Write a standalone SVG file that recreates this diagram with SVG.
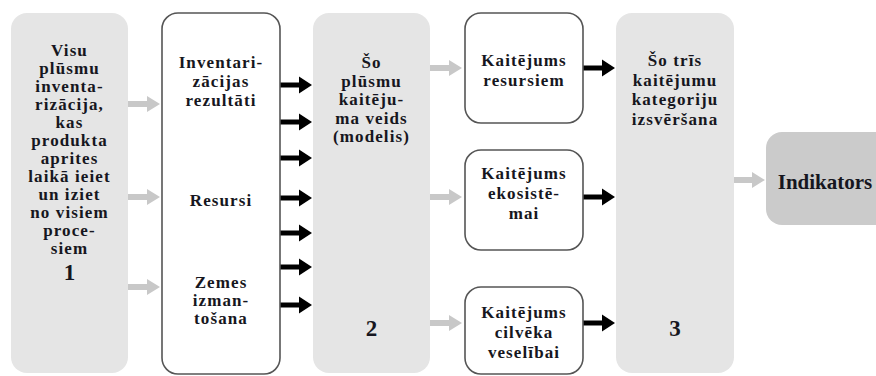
<svg xmlns="http://www.w3.org/2000/svg" width="876" height="376" viewBox="0 0 876 376">
<defs>
<style>
.g{fill:#e5e5e5;}
.w{fill:#fff;stroke:#555;stroke-width:1.6;}
.d{fill:#cbcbcb;}
text{font-family:"Liberation Serif","DejaVu Serif",serif;font-weight:700;font-size:17px;letter-spacing:1.1px;fill:#161620;text-anchor:middle;}
.n{font-size:23px;letter-spacing:0;}
.big{font-size:21px;letter-spacing:0;}
.ab{stroke:#000;stroke-width:5;fill:none;marker-end:url(#hb);}
.ag{stroke:#c8c8c8;stroke-width:6;fill:none;marker-end:url(#hg);}
</style>
<marker id="hb" markerUnits="userSpaceOnUse" markerWidth="14" markerHeight="18" viewBox="0 -9 14 18" refX="1" refY="0" orient="auto"><path d="M0,-8.5 L13,0 L0,8.5 Z" fill="#000"/></marker>
<marker id="hg" markerUnits="userSpaceOnUse" markerWidth="14" markerHeight="18" viewBox="0 -9 14 18" refX="1" refY="0" orient="auto"><path d="M0,-8 L13,0 L0,8 Z" fill="#c8c8c8"/></marker>
</defs>
<g id="connectors">
<path class="ag" d="M128,104 H148"/>
<path class="ag" d="M128,197 H148"/>
<path class="ag" d="M128,287 H148"/>
<path class="ab" d="M280,85 H300"/>
<path class="ab" d="M280,122 H300"/>
<path class="ab" d="M280,158 H300"/>
<path class="ab" d="M280,198 H300"/>
<path class="ab" d="M280,233 H300"/>
<path class="ab" d="M280,267 H300"/>
<path class="ab" d="M280,305 H300"/>
<path class="ag" d="M430,68 H450"/>
<path class="ag" d="M430,197 H450"/>
<path class="ag" d="M430,323 H450"/>
<path class="ab" d="M583,68 H603"/>
<path class="ab" d="M583,197 H603"/>
<path class="ab" d="M583,323 H603"/>
<path class="ag" d="M734,180 H753"/>
</g>
<g id="node1">
<rect class="g" x="11" y="13" width="117" height="360" rx="16"/>
<text x="69.5" y="56">Visu</text>
<text x="69.5" y="74">plūsmu</text>
<text x="69.5" y="92">inventa-</text>
<text x="69.5" y="110">rizācija,</text>
<text x="69.5" y="128">kas</text>
<text x="69.5" y="146">produkta</text>
<text x="69.5" y="164">aprites</text>
<text x="69.5" y="182">laikā ieiet</text>
<text x="69.5" y="200">un iziet</text>
<text x="69.5" y="218">no visiem</text>
<text x="69.5" y="236">proce-</text>
<text x="69.5" y="254">siem</text>
<text class="n" x="69.5" y="280">1</text>
</g>
<g id="node2">
<rect class="w" x="162" y="13" width="118" height="361" rx="16"/>
<text x="221" y="68">Inventari-</text>
<text x="221" y="87">zācijas</text>
<text x="221" y="106">rezultāti</text>
<text x="221" y="206">Resursi</text>
<text x="221" y="288">Zemes</text>
<text x="221" y="306">izman-</text>
<text x="221" y="324">tošana</text>
</g>
<g id="node3">
<rect class="g" x="313" y="13" width="117" height="360" rx="16"/>
<text x="371.5" y="68">Šo</text>
<text x="371.5" y="86.5">plūsmu</text>
<text x="371.5" y="105">kaitēju-</text>
<text x="371.5" y="123.5">ma veids</text>
<text x="371.5" y="142">(modelis)</text>
<text class="n" x="371.5" y="336">2</text>
</g>
<g id="nodeA">
<rect class="w" x="465" y="13" width="118" height="110" rx="16"/>
<text x="524" y="66">Kaitējums</text>
<text x="524" y="86">resursiem</text>
</g>
<g id="nodeB">
<rect class="w" x="465" y="150" width="118" height="100" rx="16"/>
<text x="524" y="179">Kaitējums</text>
<text x="524" y="199">ekosistē-</text>
<text x="524" y="219">mai</text>
</g>
<g id="nodeC">
<rect class="w" x="465" y="287" width="118" height="87" rx="16"/>
<text x="524" y="318">Kaitējums</text>
<text x="524" y="338">cilvēka</text>
<text x="524" y="358">veselībai</text>
</g>
<g id="node4">
<rect class="g" x="616" y="13" width="118" height="360" rx="16"/>
<text x="675" y="66">Šo trīs</text>
<text x="675" y="86">kaitējumu</text>
<text x="675" y="105">kategoriju</text>
<text x="675" y="125">izsvēršana</text>
<text class="n" x="675" y="336">3</text>
</g>
<g id="node5">
<rect class="d" x="766" y="132" width="130" height="93" rx="16"/>
<text class="big" x="825" y="189">Indikators</text>
</g>
</svg>
